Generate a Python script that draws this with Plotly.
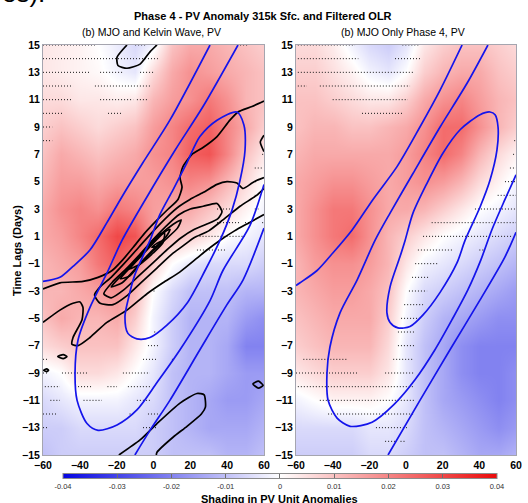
import plotly.graph_objects as go

# ---------------- data ----------------
lon = [-60, -50, -40, -30, -20, -10, 0, 10, 20, 30, 40, 50, 60]
lag = [15, 13, 11, 9, 7, 5, 3, 1, -1, -3, -5, -7, -9, -11, -13, -15]

pv_mjo_kelvin = [
    [0.004, 0.003, 0.002, 0.000, -0.003, -0.006, -0.002, 0.010, 0.014, 0.014, 0.012, 0.010, 0.008],
    [0.004, 0.003, 0.002, 0.001, -0.002, -0.004, 0.006, 0.014, 0.018, 0.016, 0.014, 0.012, 0.010],
    [0.006, 0.006, 0.004, 0.004, 0.003, 0.004, 0.012, 0.016, 0.018, 0.022, 0.018, 0.012, 0.010],
    [0.008, 0.010, 0.008, 0.006, 0.008, 0.010, 0.016, 0.020, 0.024, 0.026, 0.020, 0.014, 0.008],
    [0.010, 0.014, 0.012, 0.010, 0.012, 0.014, 0.018, 0.020, 0.026, 0.028, 0.020, 0.010, 0.004],
    [0.012, 0.016, 0.016, 0.014, 0.016, 0.016, 0.016, 0.018, 0.020, 0.018, 0.012, 0.006, 0.000],
    [0.014, 0.018, 0.020, 0.018, 0.022, 0.020, 0.016, 0.014, 0.014, 0.010, 0.006, 0.002, -0.002],
    [0.014, 0.016, 0.020, 0.024, 0.030, 0.028, 0.016, 0.010, 0.008, 0.004, 0.000, -0.002, -0.004],
    [0.012, 0.014, 0.016, 0.022, 0.026, 0.020, 0.008, 0.000, -0.004, -0.006, -0.006, -0.006, -0.008],
    [0.012, 0.012, 0.014, 0.016, 0.018, 0.012, 0.000, -0.006, -0.010, -0.010, -0.010, -0.012, -0.012],
    [0.010, 0.014, 0.012, 0.012, 0.014, 0.008, -0.002, -0.008, -0.012, -0.012, -0.012, -0.016, -0.018],
    [0.006, 0.008, 0.010, 0.010, 0.010, 0.004, -0.002, -0.008, -0.012, -0.012, -0.014, -0.020, -0.020],
    [-0.002, 0.000, 0.006, 0.006, 0.004, 0.000, -0.004, -0.010, -0.012, -0.012, -0.014, -0.016, -0.016],
    [-0.006, -0.004, -0.002, -0.002, -0.002, -0.004, -0.006, -0.010, -0.012, -0.014, -0.016, -0.016, -0.014],
    [-0.008, -0.008, -0.006, -0.006, -0.006, -0.006, -0.008, -0.010, -0.012, -0.014, -0.014, -0.014, -0.012],
    [-0.010, -0.008, -0.008, -0.008, -0.008, -0.008, -0.008, -0.010, -0.010, -0.010, -0.012, -0.012, -0.010],
]

pv_mjo_only = [
    [0.006, 0.006, 0.003, -0.002, -0.006, -0.008, -0.004, 0.004, 0.008, 0.010, 0.010, 0.008, 0.006],
    [0.008, 0.008, 0.005, 0.002, -0.002, -0.004, 0.000, 0.008, 0.012, 0.014, 0.014, 0.010, 0.008],
    [0.010, 0.010, 0.008, 0.006, 0.004, 0.004, 0.008, 0.014, 0.018, 0.020, 0.016, 0.012, 0.010],
    [0.010, 0.012, 0.012, 0.010, 0.010, 0.012, 0.014, 0.018, 0.024, 0.024, 0.018, 0.012, 0.008],
    [0.012, 0.014, 0.014, 0.014, 0.014, 0.014, 0.016, 0.020, 0.024, 0.020, 0.012, 0.006, 0.002],
    [0.014, 0.016, 0.018, 0.018, 0.016, 0.014, 0.016, 0.018, 0.016, 0.012, 0.006, 0.002, -0.002],
    [0.014, 0.018, 0.022, 0.022, 0.018, 0.014, 0.014, 0.012, 0.008, 0.004, 0.000, -0.002, -0.004],
    [0.014, 0.018, 0.022, 0.024, 0.018, 0.012, 0.008, 0.004, 0.000, -0.002, -0.004, -0.006, -0.008],
    [0.012, 0.016, 0.018, 0.018, 0.016, 0.012, 0.004, -0.002, -0.004, -0.006, -0.008, -0.010, -0.012],
    [0.012, 0.014, 0.016, 0.016, 0.014, 0.010, 0.000, -0.006, -0.008, -0.010, -0.012, -0.014, -0.016],
    [0.010, 0.012, 0.014, 0.014, 0.014, 0.008, -0.002, -0.008, -0.012, -0.014, -0.016, -0.018, -0.018],
    [0.008, 0.010, 0.012, 0.012, 0.012, 0.006, -0.004, -0.010, -0.014, -0.018, -0.020, -0.020, -0.020],
    [0.004, 0.006, 0.008, 0.008, 0.008, 0.004, -0.004, -0.010, -0.014, -0.018, -0.020, -0.020, -0.018],
    [-0.002, 0.000, 0.002, 0.002, 0.002, 0.000, -0.004, -0.010, -0.014, -0.016, -0.018, -0.020, -0.018],
    [-0.006, -0.006, -0.006, -0.006, -0.004, -0.004, -0.006, -0.010, -0.012, -0.014, -0.016, -0.018, -0.016],
    [-0.008, -0.008, -0.008, -0.008, -0.006, -0.006, -0.008, -0.010, -0.010, -0.012, -0.014, -0.014, -0.012],
]

# filtered OLR contours (blue), lon / lag pairs
olr1_a_lon = [30.7, 8.9, -5.7, -17.1, -25.3, -34.5, -43.7, -50.8, -60]
olr1_a_lag = [15, 9.5, 6.4, 3.9, 2.0, 0.0, -1.2, -2.0, -2.3]
olr1_b_lon = [45.9, 26.9, 11.7, -3.5, -17.1, -25.3, -34.5, -41.0, -42.6, -41.5, -36.1, -30.1, -19.8, -9.0, 1.9, 14.4, 30.7, 37.7, 52.4, 60]
olr1_b_lag = [15, 10.5, 7.3, 3.9, 0.7, -1.7, -4.2, -6.6, -9.0, -11.0, -12.7, -13.2, -12.8, -11.7, -9.7, -7.3, -3.7, -1.5, 1.8, 4.8]
olr1_c_lon = [45.3, 34.5, 25.2, 18.2, 10.6, 3.5, -1.9, -10.1, -13.9, -15.5, -13.9, -9.0, -1.9, 7.3, 18.2, 28.0, 36.1, 42.6, 47.0, 49.7, 49.1, 45.3]
olr1_c_lag = [10.1, 9.5, 8.3, 6.4, 4.4, 2.6, 0.7, -1.8, -3.7, -4.9, -6.1, -6.5, -6.4, -5.5, -3.9, -1.5, 0.7, 2.9, 5.1, 7.3, 9.15, 10.1]
olr1_d_lon = [60, 48.6, 39.9, 25.2, 8.9, -1.9, -10.1]
olr1_d_lag = [1.6, -2.2, -4.0, -7.3, -11.0, -13.2, -15]

olr2_a_lon = [30.6, 18.6, 7.6, -4.9, -18.0, -29.4, -39.8, -48.5, -57.8, -60]
olr2_a_lag = [15, 11.7, 9.0, 6.1, 3.7, 1.47, -0.2, -1.5, -2.4, -2.6]
olr2_b_lon = [44.7, 33.3, 18.6, 3.8, -8.7, -16.9, -26.7, -36.0, -41.5, -43.1, -42.5, -37.6, -30.5, -18.5, -6.5, 4.9, 15.8, 25.1, 33.8, 40.9, 46.9, 54.0, 60]
olr2_b_lag = [15, 12.2, 9.0, 5.6, 2.7, 0.7, -2.2, -4.6, -7.1, -9.0, -11.0, -12.3, -12.9, -12.6, -11.3, -9.5, -7.3, -5.1, -2.9, -0.7, 1.5, 3.7, 5.5]
olr2_c_lon = [45.8, 40.4, 29.5, 20.2, 11.5, 3.8, -0.5, -3.3, -8.7, -10.4, -8.7, -4.4, 2.2, 9.3, 18.6, 27.8, 32.2, 40.4, 45.8, 49.6, 50.2, 48.6, 45.8]
olr2_c_lag = [10.1, 9.9, 8.8, 7.1, 4.9, 2.7, 0.7, -0.5, -2.7, -4.6, -5.3, -5.7, -5.6, -4.75, -3.1, -0.95, 0.7, 3.15, 5.1, 7.3, 9.0, 9.9, 10.1]
olr2_d_lon = [60, 54.0, 40.4, 24.0, 7.6, -9.8]
olr2_d_lag = [1.3, -0.5, -3.65, -7.3, -11.0, -15]

# Kelvin-wave contours (black), panel (a) only
kw_top_lon = [-14.4, -19.8, -19.3, -14.4, -7.3, -1.9, 1.9]
kw_top_lag = [15, 14.1, 13.5, 13.3, 13.6, 14.5, 15]
kw_long_lon = [60, 53.5, 45.9, 41.5, 34.5, 26.9, 20.9, 16.0, 14.4, 15.5, 13.3, 8.0, 2.0, -5.0, -11.0, -16.6, -22.5, -30.1, -38.3, -50.8, -60]
kw_long_lag = [10.9, 10.5, 10.1, 9.5, 8.3, 7.5, 7.0, 6.1, 5.3, 4.6, 3.7, 3.0, 2.2, 1.2, 0.2, -0.7, -1.5, -2.0, -2.3, -2.4, -2.85]
kw_tongue_lon = [60, 56.2, 53.5, 48.6, 45.3, 39.9, 34.5, 26.9, 19.8, 14, 8, 0, -8, -16, -23, -29, -32, -29, -22, -14, -6, 2, 10, 16, 22, 30, 37.7, 47, 56, 60]
kw_tongue_lag = [5.3, 5.1, 4.9, 4.5, 4.9, 5.0, 4.8, 4.2, 3.7, 3.2, 2.5, 1.4, 0.2, -1.0, -2.0, -2.7, -3.3, -3.9, -4.0, -3.3, -2.3, -1.3, -0.3, 0.3, 0.9, 1.4, 2.2, 3.2, 4.0, 4.5]
kw_low_lon = [-60, -50.8, -43.7, -39.9, -38.3, -38.8, -43.7, -44.3, -41.0, -34.5, -25.3, -14.4, -3.5, 5.1, 14.4, 23.6, 29.0, 36.0, 44.0, 52.0, 60]
kw_low_lag = [-5.3, -4.4, -3.9, -3.8, -4.2, -5.1, -6.4, -6.9, -7.0, -6.4, -5.3, -4.4, -3.2, -2.4, -1.6, -0.6, 0.0, 0.7, 1.4, 2.0, 2.6]
kw_l1_lon = [-27, -22, -15, -8, 0, 8, 14, 20, 27, 34.5, 37.2, 35, 29, 22, 15, 8, 0, -8, -16, -23, -27]
kw_l1_lag = [-3.2, -2.3, -1.4, -0.4, 0.8, 1.9, 2.6, 3.0, 3.2, 3.4, 2.8, 2.3, 1.9, 1.5, 0.9, 0.1, -0.9, -1.9, -2.9, -3.5, -3.2]
kw_l2_lon = [-23, -17, -10, -2, 6, 12, 15, 13, 6, -2, -10, -17, -23]
kw_l2_lag = [-2.7, -1.8, -0.8, 0.4, 1.4, 2.0, 2.2, 1.6, 0.7, -0.3, -1.4, -2.4, -2.7]
kw_l3_lon = [-18, -12, -5, 2, 7, 9, 7, 1, -6, -13, -18]
kw_l3_lag = [-2.1, -1.2, -0.2, 0.8, 1.4, 1.5, 1.0, 0.2, -0.8, -1.9, -2.1]
kw_l4_lon = [-13, -7, -1, 4, 6, 5, 0, -7, -13]
kw_l4_lag = [-1.4, -0.4, 0.6, 1.2, 1.2, 0.5, -0.2, -1.0, -1.4]
kw_l5_lon = [-1, 1.5, 4, 2.5, -1]
kw_l5_lag = [0.2, 0.45, 0.65, 0.3, 0.2]
kw_bot_lon = [-18.8, -7.3, 1.9, 14.4, 23.6, 27.5, 28.2, 26.0, 18.2, 10.6, 1.9, 1.5]
kw_bot_lag = [-15, -13.9, -12.7, -11.2, -10.5, -10.6, -11.5, -12.0, -12.9, -13.7, -14.8, -15]
kw_s1_lon = [-52, -49, -47, -49, -52]
kw_s1_lag = [-7.8, -7.65, -7.8, -7.95, -7.8]
kw_s2_lon = [-59.6, -58, -57, -58, -59.6]
kw_s2_lag = [-8.8, -8.7, -8.8, -8.9, -8.8]
kw_s3_lon = [54, 57, 59.5, 57, 54]
kw_s3_lag = [-9.8, -9.6, -9.9, -10.1, -9.8]
kw_s4_lon = [60, 58, 60]
kw_s4_lag = [8.4, 7.9, 7.2]

# significance stippling: lag rows and longitude spans
stip1_lag = [15, 14, 13, 12, 11, 10, 9, 8, 7, 6, 5, 4, 3, 2, 1, 0, -3, -6, -7, -8, -9, -10, -11, -12, -13]
stip1_spans = [
    [(-60, -31.8), (-10, -3.5), (0.8, 2.4), (47, 51)],
    [(-60, 2.4)],
    [(-60, -34.5), (-29, -17), (-7.3, 0.8)],
    [(-60, -43.7), (-31.8, -1.9)],
    [(-60, -44.3), (-29, -11), (-9, -3.5)],
    [(-60, -49), (-24.7, -17)],
    [(-60, -55)],
    [(-60, -55)],
    [(59, 60)],
    [(55, 59)],
    [(55, 56.5)],
    [(55, 56.5)],
    [(34.5, 43), (55, 57)],
    [(34.5, 47), (49.7, 54), (59, 60)],
    [(25, 49.7)],
    [(23.6, 38.8)],
    [(0, 1)],
    [(0.4, 1.4)],
    [(-3, 3.5)],
    [(-60, -57), (-5.7, 2.4), (10, 11)],
    [(-60, -57), (-49.7, -35.6), (-16.6, -1.9)],
    [(-59, -50.8), (-42.6, -33.4), (-25, -19.8), (-13.9, -1.9)],
    [(-56, -50.8), (-38, -28), (-9, -1.9)],
    [(-60, -52), (-13, -12), (-3, 2.4)],
    [(-60, -57), (-5.7, 2)],
]
stip2_lag = [15, 14, 13, 12, 11, 10, 8, 7, 6, 5, 4, 3, 2, 1, 0, -1, -2, -3, -4, -5, -6, -7, -8, -9, -10, -11, -12, -13, -14]
stip2_spans = [
    [(-59, -27.8), (-2, 7.6)],
    [(-59, -26), (-6, 7.6)],
    [(-59, 3.8)],
    [(-59, -54), (-47, 2.2)],
    [(-40, 1)],
    [(-24, -1.6)],
    [(59, 60)],
    [(58.4, 60)],
    [(56.7, 60)],
    [(54, 60)],
    [(50, 60)],
    [(37.6, 60)],
    [(14, 60)],
    [(9.3, 58.4)],
    [(6.5, 25.6), (40, 43)],
    [(5, 17.5)],
    [(3.3, 13)],
    [(1.6, 11.5)],
    [(-1, 9.3)],
    [(-2.7, 7.6)],
    [(-4.4, 4.4)],
    [(-4.4, 4.4)],
    [(-56, -32), (-7, 4.4)],
    [(-60, -26), (-11.4, 4.4)],
    [(-59, 4.4)],
    [(-47, 4.4)],
    [(-42.5, 4.4)],
    [(-16.4, 1)],
    [(-11.4, -5), (-3, -0.5)],
]

cbar_ticks = [-0.04, -0.03, -0.02, -0.01, 0, 0.01, 0.02, 0.03, 0.04]
cbar_labels = ["-0.04", "-0.03", "-0.02", "-0.01", "0", "0.01", "0.02", "0.03", "0.04"]

# ---------------- figure ----------------
FONT = "Liberation Sans, Arial, sans-serif"
BLUE = "rgb(20,20,235)"
fig = go.Figure()

for z, xa, ya in [(pv_mjo_kelvin, "x", "y"), (pv_mjo_only, "x2", "y2")]:
    fig.add_trace(go.Heatmap(x=lon, y=lag[::-1], z=z[::-1], coloraxis="coloraxis",
                             zsmooth="best", xaxis=xa, yaxis=ya, hoverinfo="skip"))


def stipple(lags, spans, xa, ya):
    xs, ys = [], []
    for yv, segs in zip(lags, spans):
        for a, b in segs:
            xs += [a, b, None]
            ys += [yv, yv, None]
    fig.add_trace(go.Scatter(x=xs, y=ys, mode="lines", xaxis=xa, yaxis=ya,
                             line=dict(color="rgb(20,20,20)", width=1, dash="1px,2px"),
                             showlegend=False, hoverinfo="skip"))


stipple(stip1_lag, stip1_spans, "x", "y")
stipple(stip2_lag, stip2_spans, "x2", "y2")

black_lines = [(kw_top_lon, kw_top_lag), (kw_long_lon, kw_long_lag), (kw_tongue_lon, kw_tongue_lag),
               (kw_low_lon, kw_low_lag),
               (kw_l1_lon, kw_l1_lag), (kw_l2_lon, kw_l2_lag), (kw_l3_lon, kw_l3_lag),
               (kw_l4_lon, kw_l4_lag), (kw_l5_lon, kw_l5_lag), (kw_bot_lon, kw_bot_lag),
               (kw_s1_lon, kw_s1_lag), (kw_s2_lon, kw_s2_lag), (kw_s3_lon, kw_s3_lag),
               (kw_s4_lon, kw_s4_lag)]
for xs, ys in black_lines:
    fig.add_trace(go.Scatter(x=xs, y=ys, mode="lines", xaxis="x", yaxis="y",
                             line=dict(color="black", width=1.7, shape="spline", smoothing=0.6),
                             showlegend=False, hoverinfo="skip"))

blue1 = [(olr1_a_lon, olr1_a_lag), (olr1_b_lon, olr1_b_lag), (olr1_c_lon, olr1_c_lag), (olr1_d_lon, olr1_d_lag)]
blue2 = [(olr2_a_lon, olr2_a_lag), (olr2_b_lon, olr2_b_lag), (olr2_c_lon, olr2_c_lag), (olr2_d_lon, olr2_d_lag)]
for group, xa, ya in [(blue1, "x", "y"), (blue2, "x2", "y2")]:
    for xs, ys in group:
        fig.add_trace(go.Scatter(x=xs, y=ys, mode="lines", xaxis=xa, yaxis=ya,
                                 line=dict(color=BLUE, width=1.7, shape="spline", smoothing=0.8),
                                 showlegend=False, hoverinfo="skip"))

axis_common = dict(range=[-60, 60], tickvals=[-60, -40, -20, 0, 20, 40, 60], ticks="",
                   showgrid=False, zeroline=False, showline=True, mirror=True,
                   linecolor="rgb(165,165,175)", linewidth=1, automargin=False,
                   tickfont=dict(family=FONT, size=10.5, color="black", weight="bold"))
yaxis_common = dict(range=[-15, 15], tickvals=list(range(-15, 16, 2)), ticks="",
                    showgrid=False, zeroline=False, showline=True, mirror=True,
                    linecolor="rgb(165,165,175)", linewidth=1, automargin=False,
                    tickfont=dict(family=FONT, size=10.5, color="black", weight="bold"))

fig.update_layout(
    width=528, height=503,
    margin=dict(l=43, r=12, t=45, b=48, autoexpand=False),
    paper_bgcolor="white", plot_bgcolor="white",
    showlegend=False,
    xaxis=dict(domain=[0, 0.4672], anchor="y", **axis_common),
    yaxis=dict(domain=[0, 1], anchor="x", **yaxis_common),
    xaxis2=dict(domain=[0.5349, 1], anchor="y2", **axis_common),
    yaxis2=dict(domain=[0, 1], anchor="x2", **yaxis_common),
    coloraxis=dict(
        cmin=-0.04, cmax=0.04,
        colorscale=[[0, "rgb(5,5,225)"], [0.5, "rgb(255,255,255)"], [1, "rgb(235,10,10)"]],
        colorbar=dict(orientation="h", x=0.501, xanchor="center", y=-0.073, yanchor="middle",
                      len=0.9175, lenmode="fraction", thickness=5, xpad=0, ypad=0,
                      outlinecolor="rgb(140,140,140)", outlinewidth=1,
                      tickvals=cbar_ticks, ticktext=cbar_labels,
                      ticks="inside", ticklen=5, tickcolor="rgb(110,110,110)", tickwidth=1,
                      tickfont=dict(family=FONT, size=7.5, color="rgb(50,50,50)")),
    ),
    font=dict(family=FONT),
)

fig.add_annotation(text="Phase 4 - PV Anomaly 315k Sfc. and Filtered OLR", xref="paper", yref="paper",
                   x=0.465, y=1.0707, xanchor="center", yanchor="middle", showarrow=False,
                   font=dict(family=FONT, size=11, color="black", weight="bold"))
fig.add_annotation(text="(b) MJO and Kelvin Wave, PV", xref="paper", yref="paper",
                   x=0.2304, y=1.0317, xanchor="center", yanchor="middle", showarrow=False,
                   font=dict(family=FONT, size=10.5, color="black"))
fig.add_annotation(text="(b) MJO Only Phase 4, PV", xref="paper", yref="paper",
                   x=0.7611, y=1.0317, xanchor="center", yanchor="middle", showarrow=False,
                   font=dict(family=FONT, size=10.5, color="black"))
fig.add_annotation(text="Time Lags (Days)", xref="paper", yref="paper", textangle=-90,
                   x=-0.055, y=0.5, xanchor="center", yanchor="middle", showarrow=False,
                   font=dict(family=FONT, size=11, color="black", weight="bold"))
fig.add_annotation(text="Shading in PV Unit Anomalies", xref="paper", yref="paper",
                   x=0.501, y=-0.088, xanchor="center", yanchor="top", showarrow=False,
                   font=dict(family=FONT, size=11, color="black", weight="bold"))
fig.add_annotation(text="es).", xref="paper", yref="paper",
                   x=-0.091, y=1.086, xanchor="left", yanchor="bottom", showarrow=False,
                   font=dict(family=FONT, size=26, color="black"))

fig.write_html("out.html", config={"displayModeBar": False},
               post_script="document.body.style.margin='0px';")
